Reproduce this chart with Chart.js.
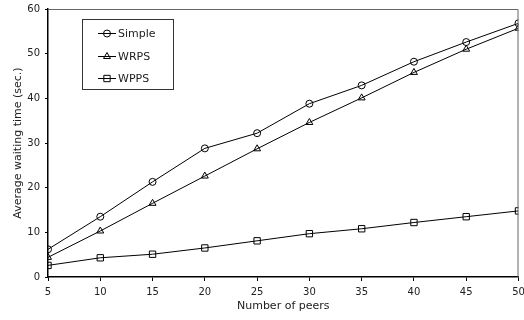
<!DOCTYPE html>
<html><head><meta charset="utf-8">
<script src="https://cdn.jsdelivr.net/npm/chart.js@4/dist/chart.umd.min.js"></script>
<style>html,body{margin:0;padding:0;background:#fff}#wrap{width:524px;height:320px}</style>
</head><body><div id="wrap"><canvas id="c" width="524" height="320"></canvas></div>
<script>
const peers = [5,10,15,20,25,30,35,40,45,50];
const simple = [6.2,13.5,21.3,28.8,32.2,38.8,42.9,48.2,52.6,56.8];
const wrps = [4.4,10.3,16.5,22.6,28.7,34.6,40.1,45.8,51.0,55.7];
const wpps = [2.6,4.3,5.1,6.5,8.1,9.7,10.8,12.2,13.5,14.8];
const seriesNames = ['Simple','WRPS','WPPS'];
const xTitle = 'Number of peers';
const yTitle = 'Average waiting time (sec.)';

const FONT = "'DejaVu Sans', sans-serif";
const toPts = arr => arr.map((v,i)=>({x:peers[i], y:v}));

const frame = {
  id:'frame',
  afterDraw(chart){
    const {ctx, chartArea:a} = chart;
    ctx.save();
    ctx.strokeStyle = '#666'; ctx.lineWidth = 1;
    ctx.beginPath();
    ctx.moveTo(a.left, a.top+0.5); ctx.lineTo(a.right-0.5, a.top+0.5); ctx.lineTo(a.right-0.5, a.bottom);
    ctx.stroke();
    // legend
    const x0 = 82.5, y0 = 19.5, w = 91, h = 70;
    ctx.fillStyle = '#fff'; ctx.fillRect(x0,y0,w,h);
    ctx.strokeStyle = '#333'; ctx.lineWidth = 1; ctx.strokeRect(x0,y0,w,h);
    const styles = ['circle','triangle','rect'];
    const radii = [3.5,4,4.5];
    const ys = [33,56,78];
    ctx.font = "11px " + FONT; ctx.textBaseline = 'middle'; ctx.textAlign='left';
    seriesNames.forEach((n,i)=>{
      ctx.strokeStyle='#000'; ctx.lineWidth=1;
      ctx.beginPath(); ctx.moveTo(98, ys[i]+0.5); ctx.lineTo(116, ys[i]+0.5); ctx.stroke();
      ctx.fillStyle='rgba(255,255,255,0)';
      Chart.helpers.drawPoint(ctx, {pointStyle:styles[i], radius:radii[i], borderWidth:1}, 107, ys[i]+0.5);
      ctx.fillStyle='#222';
      ctx.fillText(n, 118, ys[i]+1);
    });
    ctx.restore();
  }
};

const mk = (label, data, ps, r) => ({
  label, data: toPts(data), pointStyle: ps, pointRadius: r, pointBorderWidth: 1,
  borderColor:'#000', pointBorderColor:'#000', backgroundColor:'rgba(255,255,255,0)',
  pointBackgroundColor:'rgba(255,255,255,0)', borderWidth:1, tension:0, fill:false
});

new Chart(document.getElementById('c'), {
  type:'line',
  data:{ datasets:[
    mk(seriesNames[0], simple, 'circle', 3.5),
    mk(seriesNames[1], wrps, 'triangle', 4),
    mk(seriesNames[2], wpps, 'rect', 4.5)
  ]},
  plugins:[frame],
  options:{
    responsive:false, animation:false, devicePixelRatio:1,
    layout:{padding:{top:9,right:4,left:0,bottom:0}},
    plugins:{legend:{display:false}, tooltip:{enabled:false}},
    scales:{
      x:{ type:'linear', min:5, max:50,
        ticks:{stepSize:5, color:'#222', font:{family:FONT,size:10}, padding:5, maxRotation:0},
        grid:{display:true, drawOnChartArea:false, drawTicks:true, tickLength:4, color:'#000'},
        border:{display:true, color:'#000', width:1.5},
        title:{display:true, text:xTitle, color:'#222', font:{family:FONT,size:11}, padding:{top:2,bottom:7}},
        afterFit(s){ s.height = 43; s.paddingLeft = 0; s.paddingRight = 0; }
      },
      y:{ min:0, max:60,
        ticks:{stepSize:10, color:'#222', font:{family:FONT,size:10}, padding:5},
        grid:{display:true, drawOnChartArea:false, drawTicks:true, tickLength:3, color:'#000'},
        border:{display:true, color:'#000', width:1.5},
        title:{display:true, text:yTitle, color:'#222', font:{family:FONT,size:11}, padding:{top:12,bottom:4}},
        afterFit(s){ s.width = 48; s.paddingTop = 0; s.paddingBottom = 0; }
      }
    }
  }
});
</script></body></html>
